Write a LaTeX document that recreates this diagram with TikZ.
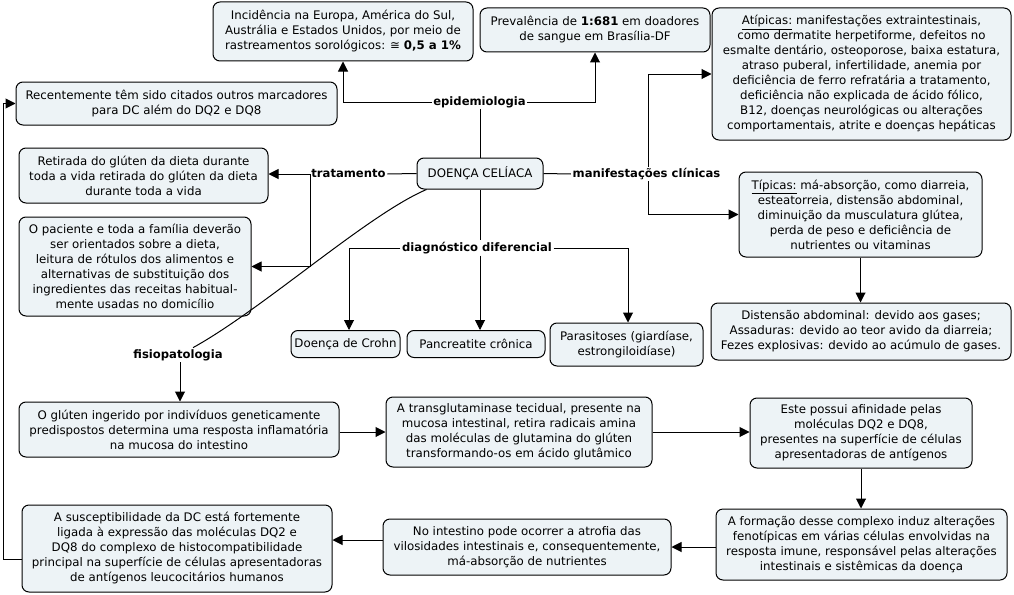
\documentclass[tikz,border=0pt]{standalone}
\usepackage{fontspec}
\setmainfont{DejaVu Sans}
\usetikzlibrary{arrows.meta}
\definecolor{boxfill}{RGB}{237,243,246}
\tikzset{
  box/.style={draw=black, line width=1pt, fill=boxfill, rounded corners=7pt,
    align=center, inner sep=2pt, font=\fontsize{11.8}{15}\selectfont},
  lbl/.style={inner sep=1.5pt, font=\fontsize{11.6}{15}\selectfont\bfseries},
  conn/.style={line width=1pt, draw=black},
  arr/.style={conn, -{Triangle[length=10pt,width=10pt]}}
}
\begin{document}
\begin{tikzpicture}[x=1pt,y=-1pt]
\useasboundingbox (0,0) rectangle (1014,594);
% boxes
\node[box, minimum width=260, minimum height=59] (inc) at (343,31.5)
  {Incidência na Europa, América do Sul,\\Austrália e Estados Unidos, por meio de\\rastreamentos sorológicos: ≅ \textbf{0,5 a 1\%}};
\node[box, minimum width=230, minimum height=44] (prev) at (595,30)
  {Prevalência de \textbf{1:681} em doadores\\de sangue em Brasília-DF};
\node[box, minimum width=299, minimum height=132] (atip) at (861.5,74)
  {\underline{Atípicas:} manifestações extraintestinais,\\como dermatite herpetiforme, defeitos no\\esmalte dentário, osteoporose, baixa estatura,\\atraso puberal, infertilidade, anemia por\\deficiência de ferro refratária a tratamento,\\deficiência não explicada de ácido fólico,\\B12, doenças neurológicas ou alterações\\comportamentais, atrite e doenças hepáticas};
\node[box, minimum width=321, minimum height=43] (rec) at (176.5,103.5)
  {Recentemente têm sido citados outros marcadores\\para DC além do DQ2 e DQ8};
\node[box, minimum width=249, minimum height=55] (ret) at (143.5,175.5)
  {Retirada do glúten da dieta durante\\toda a vida retirada do glúten da dieta\\durante toda a vida};
\node[box, minimum width=232, minimum height=99] (pac) at (135,266.5)
  {O paciente e toda a família deverão\\ser orientados sobre a dieta,\\leitura de rótulos dos alimentos e\\alternativas de substituição dos\\ingredientes das receitas habitual-\\mente usadas no domicílio};
\node[box, minimum width=126, minimum height=31] (dc) at (480,173.5) {DOENÇA CELÍACA};
\node[box, minimum width=243, minimum height=85] (tip) at (860.5,214.5)
  {\underline{Típicas:} má-absorção, como diarreia,\\esteatorreia, distensão abdominal,\\diminuição da musculatura glútea,\\perda de peso e deficiência de\\nutrientes ou vitaminas};
\node[box, minimum width=300, minimum height=57] (dist) at (861,331.5)
  {Distensão abdominal: devido aos gases;\\Assaduras: devido ao teor avido da diarreia;\\Fezes explosivas: devido ao acúmulo de gases.};
\node[box, minimum width=109, minimum height=27] (crohn) at (345.5,344) {Doença de Crohn};
\node[box, minimum width=138, minimum height=27] (panc) at (476,344) {Pancreatite crônica};
\node[box, minimum width=153, minimum height=43] (para) at (626.5,344.5)
  {Parasitoses (giardíase,\\estrongiloidíase)};
\node[box, minimum width=320, minimum height=55] (glut) at (179,429.5)
  {O glúten ingerido por indivíduos geneticamente\\predispostos determina uma resposta inflamatória\\na mucosa do intestino};
\node[box, minimum width=266, minimum height=70] (trans) at (519,432)
  {A transglutaminase tecidual, presente na\\mucosa intestinal, retira radicais amina\\das moléculas de glutamina do glúten\\transformando-os em ácido glutâmico};
\node[box, minimum width=222, minimum height=70] (este) at (861,433)
  {Este possui afinidade pelas\\moléculas DQ2 e DQ8,\\presentes na superfície de células\\apresentadoras de antígenos};
\node[box, minimum width=291, minimum height=71] (form) at (861.5,544.5)
  {A formação desse complexo induz alterações\\fenotípicas em várias células envolvidas na\\resposta imune, responsável pelas alterações\\intestinais e sistêmicas da doença};
\node[box, minimum width=288, minimum height=56] (noint) at (527,547)
  {No intestino pode ocorrer a atrofia das\\vilosidades intestinais e, consequentemente,\\má-absorção de nutrientes};
\node[box, minimum width=310, minimum height=87] (susc) at (177,548.5)
  {A susceptibilidade da DC está fortemente\\ligada à expressão das moléculas DQ2 e\\DQ8 do complexo de histocompatibilidade\\principal na superfície de células apresentadoras\\de antígenos leucocitários humanos};
% labels
\node[lbl] (epi) at (479.5,102) {epidemiologia};
\node[lbl] (trat) at (348.5,174) {tratamento};
\node[lbl] (man) at (646.5,174) {manifestações clínicas};
\node[lbl] (diag) at (477,248) {diagnóstico diferencial};
\node[lbl] (fis) at (178,355) {fisiopatologia};
\coordinate (tb) at (310,174);
% connectors
\draw[conn] (dc.north) -- (dc.north |- epi.south);
\draw[arr] (epi.west) -| (inc.south);
\draw[arr] (epi.east) -| (prev.south);
\draw[conn] (dc.west) -- (trat.east);
\draw[arr] (trat.west) -- (trat.west -| ret.east);
\draw[arr] (tb) |- (pac.east);
\draw[conn] (dc.east) -- (man.west);
\draw[arr] ([xshift=1.5pt]man.north) |- (atip.west);
\draw[arr] ([xshift=1.5pt]man.south) |- (tip.west);
\draw[arr] (tip.south) -- (tip.south |- dist.north);
\draw[conn] (dc.south) -- (dc.south |- diag.north);
\draw[arr] (diag.west) -| ([xshift=3.5pt]crohn.north);
\draw[arr] (diag.south -| dc.south) -- (dc.south |- panc.north);
\draw[arr] (diag.east) -| ([xshift=1.5pt]para.north);
\draw[conn] ([xshift=10pt]dc.south west) .. controls (367,215) and (263,309) .. ([xshift=15pt]fis.north);
\draw[arr] ([xshift=2pt]fis.south) -- ([xshift=1pt]glut.north);
\draw[arr] (glut.east |- trans.west) -- (trans.west);
\draw[arr] (trans.east) -- (trans.east -| este.west);
\draw[arr] (este.south) -- (este.south |- form.north);
\draw[arr] (form.west |- noint.east) -- (noint.east);
\draw[arr] ([yshift=7pt]noint.west) -- ([yshift=7pt]noint.west -| susc.east);
\draw[arr] ([yshift=-10.5pt]susc.west) -- ++(-18,0) |- (rec.west);
\end{tikzpicture}
\end{document}
